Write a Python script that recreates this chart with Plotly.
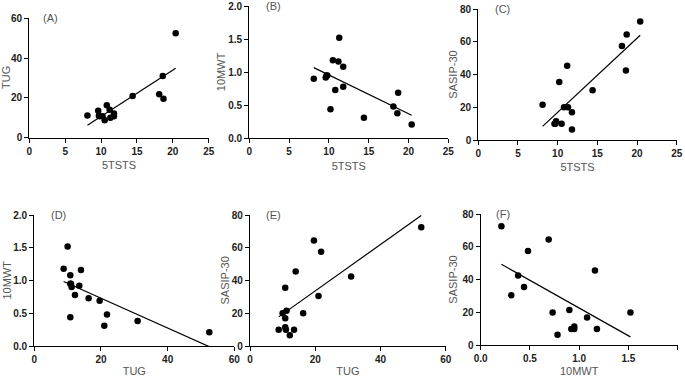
import numpy as np
import plotly.graph_objects as go

# Per-participant values
tsts5 = [20.4, 18.6, 18.7, 18.1, 14.4, 11.3, 11.2, 10.2, 10.5, 11.8, 11.8, 10.8, 8.1, 9.6, 9.8, 9.7]
tug = [52.5, 31.0, 19.6, 21.8, 21.0, 10.0, 14.0, 10.8, 8.8, 12.2, 10.8, 16.3, 11.2, 13.5, 10.8, 11.0]
mwt10 = [0.21, 0.38, 0.69, 0.48, 0.31, 1.52, 1.16, 0.44, 1.18, 0.78, 1.08, 0.73, 0.90, 0.92, 0.95, 0.95]
sasip30 = [72.5, 42.5, 64.5, 57.5, 30.5, 20.0, 45.5, 35.5, 10.0, 6.5, 17.0, 20.0, 21.5, 10.0, 11.5, 10.0]

panel_labels = ["(A)", "(B)", "(C)", "(D)", "(E)", "(F)"]
x_titles = ["5TSTS", "5TSTS", "5TSTS", "TUG", "TUG", "10MWT"]
y_titles = ["TUG", "10MWT", "SASIP-30", "10MWT", "SASIP-30", "SASIP-30"]
x_ticks = [[0, 5, 10, 15, 20, 25]] * 3 + [[0, 20, 40, 60]] * 2 + [[0.0, 0.5, 1.0, 1.5, 2.0]]
y_ticks_tug = [0, 20, 40, 60]
y_ticks_mwt = [0.0, 0.5, 1.0, 1.5, 2.0]
y_ticks_sas = [0, 20, 40, 60, 80]

data = {"5TSTS": tsts5, "TUG": tug, "10MWT": mwt10, "SASIP-30": sasip30}
y_tick_sets = [y_ticks_tug, y_ticks_mwt, y_ticks_sas, y_ticks_mwt, y_ticks_sas, y_ticks_sas]

W, H = 685, 377
# pixel boxes of each panel (left, right, top, bottom)
boxes = [
    (29.3, 208.7, 18.3, 137.7),
    (249.3, 448.3, 6.0, 138.3),
    (478.3, 676.7, 9.3, 140.0),
    (34.3, 234.3, 215.0, 346.0),
    (250.0, 445.7, 215.0, 346.0),
    (480.7, 677.7, 214.0, 345.3),
]
label_x = [3.0, 3.0, 3.0, 7.3, 7.2, 0.23]
y_title_px = [6, 221, 453, 6, 224, 453]

fig = go.Figure()
FONT = "Liberation Sans, Arial, sans-serif"
tickfont = dict(family=FONT, size=10, color="#222", weight="bold")
titlefont = dict(family=FONT, size=11, color="#555")

for i in range(6):
    xs = np.array(data[x_titles[i]], dtype=float)
    ys = np.array(data[y_titles[i]], dtype=float)
    n = i + 1
    xa = "x" if n == 1 else f"x{n}"
    ya = "y" if n == 1 else f"y{n}"
    fig.add_trace(go.Scatter(x=xs, y=ys, mode="markers", xaxis=xa, yaxis=ya,
                             marker=dict(color="black", size=6.5), cliponaxis=False,
                             showlegend=False))
    slope, inter = np.polyfit(xs, ys, 1)
    lx = np.array([xs.min(), xs.max()])
    fig.add_trace(go.Scatter(x=lx, y=slope * lx + inter, mode="lines", xaxis=xa, yaxis=ya,
                             line=dict(color="black", width=1.2), cliponaxis=False,
                             showlegend=False))
    l, r, t, b = boxes[i]
    xt = x_ticks[i]
    yt = y_tick_sets[i]
    fmt = ".1f" if isinstance(xt[1], float) else "d"
    yfmt = ".1f" if isinstance(yt[1], float) else "d"
    common = dict(showgrid=False, zeroline=False, showline=True, linecolor="black", linewidth=1.2,
                  ticks="outside", ticklen=4, tickwidth=1.2, tickcolor="black",
                  tickfont=tickfont, automargin=False)
    fig.layout[f"xaxis{'' if n == 1 else n}"] = dict(
        domain=[l / W, r / W], anchor=ya, range=[xt[0], xt[-1]], tickvals=xt,
        tickformat=fmt,
        title=dict(text=x_titles[i], font=titlefont, standoff=5), **common)
    fig.layout[f"yaxis{'' if n == 1 else n}"] = dict(
        domain=[(H - b) / H, (H - t) / H], anchor=xa, range=[yt[0], yt[-1]], tickvals=yt,
        tickformat=yfmt, **common)
    fig.add_annotation(x=y_title_px[i] / W, y=(H - (t + b) / 2) / H, xref="paper", yref="paper",
                       text=y_titles[i], textangle=-90, showarrow=False,
                       xanchor="center", yanchor="middle", font=titlefont)
    fig.add_annotation(x=label_x[i], y=yt[-1], xref=xa, yref=ya, text=panel_labels[i],
                       showarrow=False, xanchor="center", yanchor="middle",
                       font=dict(family=FONT, size=11, color="#555"))

fig.update_layout(width=W, height=H, margin=dict(l=0, r=0, t=0, b=0),
                  paper_bgcolor="white", plot_bgcolor="white")
fig.write_html("out.html", config={"displayModeBar": False},
               post_script="document.body.style.margin='0';document.body.style.padding='0';")
